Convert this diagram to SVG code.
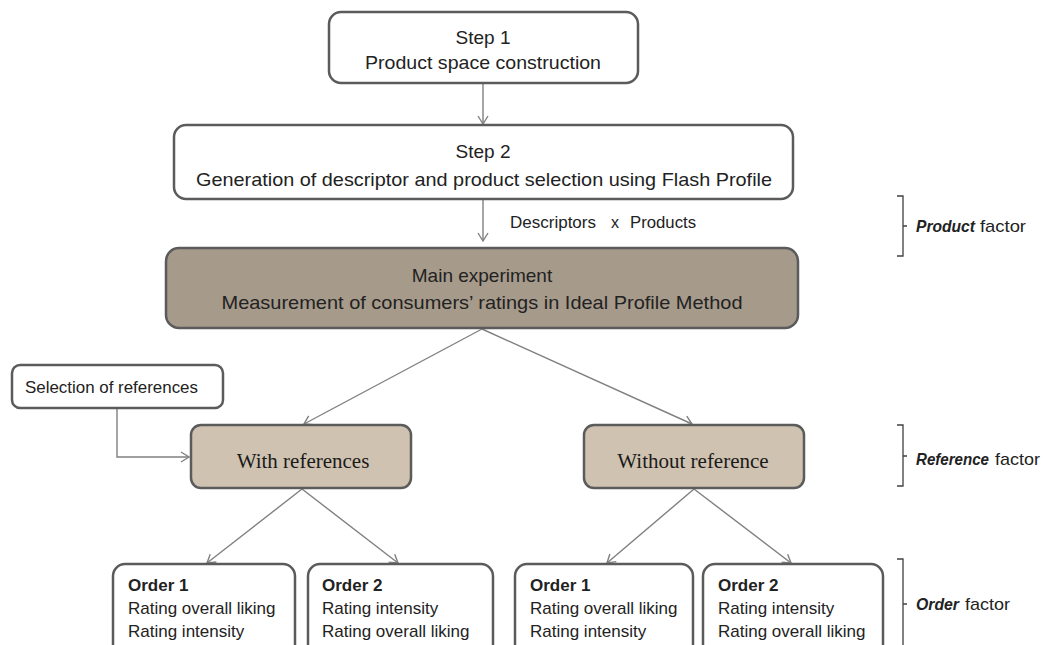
<svg xmlns="http://www.w3.org/2000/svg" width="1043" height="645" viewBox="0 0 1043 645">
<defs>
<style>
.box{fill:#ffffff;stroke:#5b5b5b;stroke-width:2.5}
.main{fill:#a69a8b;stroke:#5b5b5b;stroke-width:2.5}
.sub{fill:#cfc2b0;stroke:#5b5b5b;stroke-width:2.5}
.t{font-family:"Liberation Sans",Arial,sans-serif;fill:#222222}
.c{text-anchor:middle}
.s{font-family:"Liberation Serif","Times New Roman",serif;fill:#1a1a1a;font-size:21px;text-anchor:middle}
.conn{fill:none;stroke:#808080;stroke-width:1.4}
.br{fill:none;stroke:#404040;stroke-width:1.3}
.bi{font-weight:bold;font-style:italic}
</style>
<marker id="arr" markerUnits="userSpaceOnUse" markerWidth="14" markerHeight="14" refX="9" refY="6" orient="auto">
<path d="M1,1 L9,6 L1,11" fill="none" stroke="#808080" stroke-width="1.4"/>
</marker>
</defs>
<rect width="1043" height="645" fill="#ffffff"/>

<g id="connectors">
<line class="conn" x1="483" y1="84" x2="483" y2="124" marker-end="url(#arr)"/>
<line class="conn" x1="483" y1="199" x2="483" y2="241" marker-end="url(#arr)"/>
<line class="conn" x1="482" y1="329" x2="304" y2="424" marker-end="url(#arr)"/>
<line class="conn" x1="482" y1="329" x2="692" y2="424" marker-end="url(#arr)"/>
<polyline class="conn" points="117,409 117,457 189,457" marker-end="url(#arr)"/>
<line class="conn" x1="302" y1="489" x2="207" y2="563" marker-end="url(#arr)"/>
<line class="conn" x1="302" y1="489" x2="398" y2="563" marker-end="url(#arr)"/>
<line class="conn" x1="694" y1="489" x2="607" y2="563" marker-end="url(#arr)"/>
<line class="conn" x1="694" y1="489" x2="791" y2="563" marker-end="url(#arr)"/>
</g>

<g id="step1">
<rect class="box" x="329" y="12" width="309" height="71" rx="12"/>
<text class="t c" x="483" y="44" font-size="19">Step 1</text>
<text class="t c" x="483" y="69" font-size="19" textLength="236" lengthAdjust="spacingAndGlyphs">Product space construction</text>
</g>

<g id="step2">
<rect class="box" x="174" y="125" width="619" height="74" rx="12"/>
<text class="t c" x="483" y="158" font-size="19">Step 2</text>
<text class="t c" x="484" y="186" font-size="19" textLength="576" lengthAdjust="spacingAndGlyphs">Generation of descriptor and product selection using Flash Profile</text>
</g>

<g id="descriptors-label">
<text class="t" y="228" font-size="16"><tspan x="510" textLength="86" lengthAdjust="spacingAndGlyphs">Descriptors</tspan><tspan x="611">x</tspan><tspan x="630" textLength="66" lengthAdjust="spacingAndGlyphs">Products</tspan></text>
</g>

<g id="main">
<rect class="main" x="166" y="248" width="632" height="80" rx="13"/>
<text class="t c" x="482" y="282" font-size="19">Main experiment</text>
<text class="t c" x="482" y="309" font-size="19" textLength="521" lengthAdjust="spacingAndGlyphs">Measurement of consumers’ ratings in Ideal Profile Method</text>
</g>

<g id="selection">
<rect class="box" x="12" y="365" width="211" height="43" rx="8"/>
<text class="t" x="25" y="393" font-size="17" textLength="173" lengthAdjust="spacingAndGlyphs">Selection of references</text>
</g>

<g id="with-ref">
<rect class="sub" x="191" y="425" width="220" height="63" rx="10"/>
<text class="s" x="303" y="468">With references</text>
</g>

<g id="without-ref">
<rect class="sub" x="584" y="425" width="220" height="63" rx="10"/>
<text class="s" x="693" y="468">Without reference</text>
</g>

<g id="order1a">
<rect class="box" x="113" y="564" width="182" height="100" rx="12"/>
<text class="t" x="128" y="591" font-size="17" font-weight="bold">Order 1</text>
<text class="t" x="128" y="614" font-size="17">Rating overall liking</text>
<text class="t" x="128" y="637" font-size="17">Rating intensity</text>
</g>

<g id="order2a">
<rect class="box" x="308" y="564" width="185" height="100" rx="12"/>
<text class="t" x="322" y="591" font-size="17" font-weight="bold">Order 2</text>
<text class="t" x="322" y="614" font-size="17">Rating intensity</text>
<text class="t" x="322" y="637" font-size="17">Rating overall liking</text>
</g>

<g id="order1b">
<rect class="box" x="515" y="564" width="178" height="100" rx="12"/>
<text class="t" x="530" y="591" font-size="17" font-weight="bold">Order 1</text>
<text class="t" x="530" y="614" font-size="17">Rating overall liking</text>
<text class="t" x="530" y="637" font-size="17">Rating intensity</text>
</g>

<g id="order2b">
<rect class="box" x="703" y="564" width="180" height="100" rx="12"/>
<text class="t" x="718" y="591" font-size="17" font-weight="bold">Order 2</text>
<text class="t" x="718" y="614" font-size="17">Rating intensity</text>
<text class="t" x="718" y="637" font-size="17">Rating overall liking</text>
</g>

<g id="product-factor">
<path class="br" d="M897,196 H903 V256 H897 M903,226 H907"/>
<text class="t" y="232" font-size="17"><tspan class="bi" x="916" textLength="59" lengthAdjust="spacingAndGlyphs">Product</tspan><tspan x="980" textLength="46" lengthAdjust="spacingAndGlyphs">factor</tspan></text>
</g>

<g id="reference-factor">
<path class="br" d="M897,425 H903 V486 H897 M903,456 H907"/>
<text class="t" y="465" font-size="17"><tspan class="bi" x="916" textLength="73" lengthAdjust="spacingAndGlyphs">Reference</tspan><tspan x="995" textLength="45" lengthAdjust="spacingAndGlyphs">factor</tspan></text>
</g>

<g id="order-factor">
<path class="br" d="M897,559 H903 V660 M903,604 H907"/>
<text class="t" y="610" font-size="17"><tspan class="bi" x="916" textLength="43" lengthAdjust="spacingAndGlyphs">Order</tspan><tspan x="965" textLength="45" lengthAdjust="spacingAndGlyphs">factor</tspan></text>
</g>
</svg>
